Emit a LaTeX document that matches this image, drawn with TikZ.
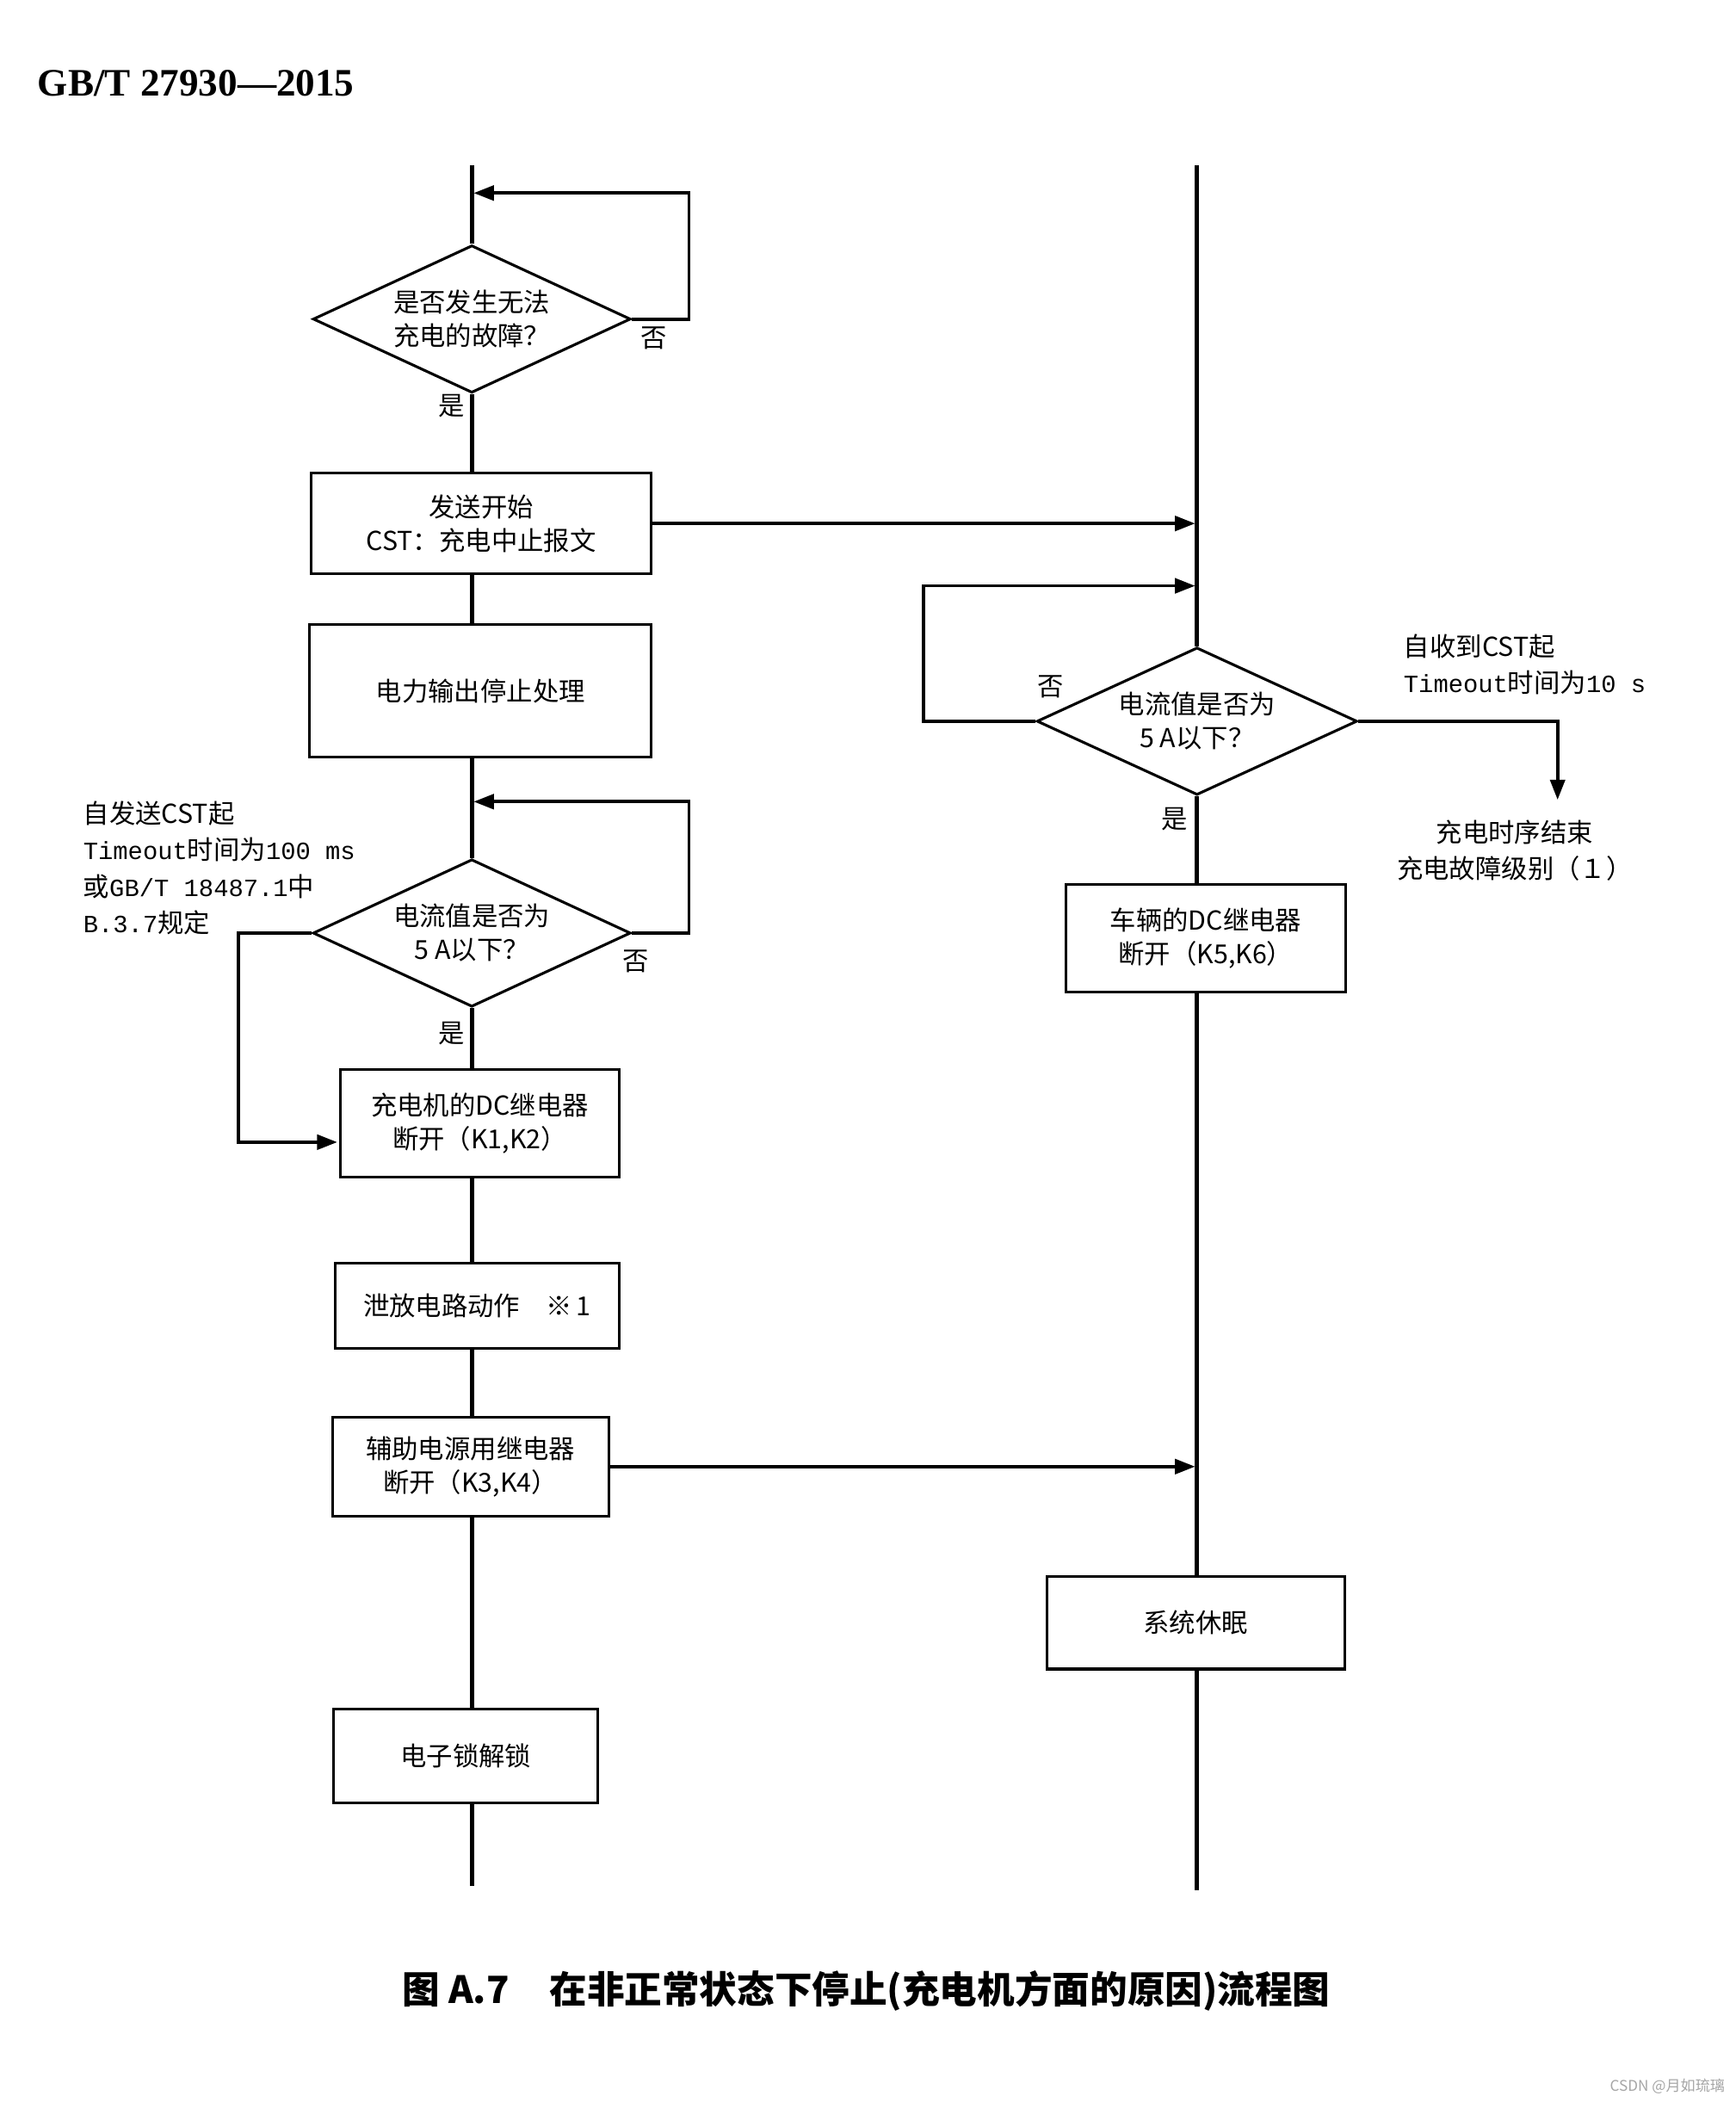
\documentclass[tikz,border=0pt]{standalone}
\usepackage{fontspec}
\setmainfont{Noto Sans CJK SC}
\newfontfamily\monofam{Liberation Mono}
\newfontfamily\hdrfam{Liberation Serif}
\usetikzlibrary{shapes.geometric,arrows.meta,calc}
\newcommand\bodyfont{\fontsize{19.5}{25}\selectfont}
\newcommand\annfont{\fontsize{19.5}{27}\selectfont}
\newcommand\mon[1]{{\monofam\fontsize{18.5}{27}\selectfont #1}}
\begin{document}
\begin{tikzpicture}[x=1pt,y=-1pt,
  spine/.style={line width=3.2pt},
  conn/.style={line width=2.4pt},
  arr/.style={conn,-{Triangle[length=15pt,width=11pt]},shorten >=1.4pt},
  box/.style={draw,line width=2pt,rectangle,inner sep=0pt,align=center,font=\bodyfont},
  dia/.style={draw,line width=2pt,diamond,inner sep=0pt,aspect=2.15,minimum width=237pt,minimum height=110pt,align=center,font=\bodyfont},
  lbl/.style={inner sep=0pt,font=\bodyfont},
  ann/.style={inner sep=0pt,align=left,font=\annfont},
]
\path[use as bounding box,fill=white] (0,0) rectangle (1295,1568);

\node[anchor=west,inner sep=0pt,font=\hdrfam\bfseries\fontsize{29}{30}\selectfont] (hdr) at (28,62) {GB/T 27930—2015};

\coordinate (topL) at (352,123);
\coordinate (botL) at (352,1407);
\coordinate (topR) at (893,123);
\coordinate (botR) at (893,1410);

% left column
\node[dia] (d1) at (352,238) {是否发生无法\\充电的故障？};
\node[box,minimum width=254pt,minimum height=75pt] (b1) at (359,390.5) {发送开始\\CST：充电中止报文};
\node[box,minimum width=255pt,minimum height=99pt] (b2) at (358.5,515.5) {电力输出停止处理};
\node[dia] (d2) at (352,696) {电流值是否为\\5 A以下？};
\node[box,minimum width=208pt,minimum height=80pt] (b3) at (358,838) {充电机的DC继电器\\断开（K1,K2）};
\node[box,minimum width=212pt,minimum height=64pt] (b4) at (356,974) {泄放电路动作\quad ※\,1};
\node[box,minimum width=206pt,minimum height=74pt] (b5) at (351,1094) {辅助电源用继电器\\断开（K3,K4）};
\node[box,minimum width=197pt,minimum height=70pt] (b6) at (347.5,1310) {电子锁解锁};

% right column
\node[dia,minimum width=239pt] (d3) at (893,538) {电流值是否为\\5 A以下？};
\node[box,minimum width=209pt,minimum height=80pt] (b7) at (899.5,700) {车辆的DC继电器\\断开（K5,K6）};
\node[box,minimum width=222pt,minimum height=69pt] (b8) at (892,1210.5) {系统休眠};

% spines
\draw[spine] (topL) -- (d1.north);
\draw[spine] (d1.south) -- (d1.south |- b1.north);
\draw[spine] (b1.south -| topL) -- (b2.north -| topL);
\draw[spine] (b2.south -| topL) -- (d2.north);
\draw[spine] (d2.south) -- (b3.north -| topL);
\draw[spine] (b3.south -| topL) -- (b4.north -| topL);
\draw[spine] (b4.south -| topL) -- (b5.north -| topL);
\draw[spine] (b5.south -| topL) -- (b6.north -| topL);
\draw[spine] (b6.south -| topL) -- (botL);

\draw[spine] (topR) -- (d3.north);
\draw[spine] (d3.south) -- (b7.north -| topR);
\draw[spine] (b7.south -| topR) -- (b8.north -| topR);
\draw[spine] (b8.south -| topR) -- (botR);

% loops and branches
\coordinate (l1) at (514,144);
\coordinate (e1) at (352,144);
\draw[arr] (d1.east) -| (l1) -- (e1);

\coordinate (l2) at (514,598);
\coordinate (e2) at (352,598);
\draw[arr] (d2.east) -| (l2) -- (e2);

\coordinate (k2) at (178,852);
\draw[arr] (d2.west) -| (k2) -- (k2 -| b3.west);

\draw[arr] (b1.east) -- (b1.east -| topR);
\draw[arr] (b5.east) -- (b5.east -| topR);

\coordinate (l3) at (689,437);
\coordinate (e3) at (893,437);
\draw[arr] (d3.west) -| (l3) -- (e3);

\coordinate (r3) at (1162,598);
\draw[arr] (d3.east) -| (r3);

% yes/no labels
\node[lbl] (n1) at (488,252) {否};
\node[lbl] (y1) at (337,303) {是};
\node[lbl] (n2) at (474,717) {否};
\node[lbl] (y2) at (337,771) {是};
\node[lbl] (n3) at (784,512) {否};
\node[lbl] (y3) at (876,611) {是};

% annotations
\node[ann,anchor=west] (a1) at (62,647.5) {自发送CST起\\\mon{Timeout}时间为\mon{100 ms}\\或\mon{GB/T 18487.1}中\\\mon{B.3.7}规定};
\node[ann,anchor=west] (a2) at (1047,495.5) {自收到CST起\\\mon{Timeout}时间为\mon{10 s}};
\node[ann,align=center] (a3) at (1130,634.5) {充电时序结束\\充电故障级别（１）};

% caption
\node[anchor=west,inner sep=0pt,font=\bfseries\fontsize{28}{30}\selectfont] (cap) at (300,1485) {图 A.7\hspace{30pt}在非正常状态下停止(充电机方面的原因)流程图};

\node[anchor=east,inner sep=0pt,text=gray!70,font=\fontsize{11}{12}\selectfont] (wm) at (1287,1556) {CSDN @月如琉璃};
\end{tikzpicture}
\end{document}
